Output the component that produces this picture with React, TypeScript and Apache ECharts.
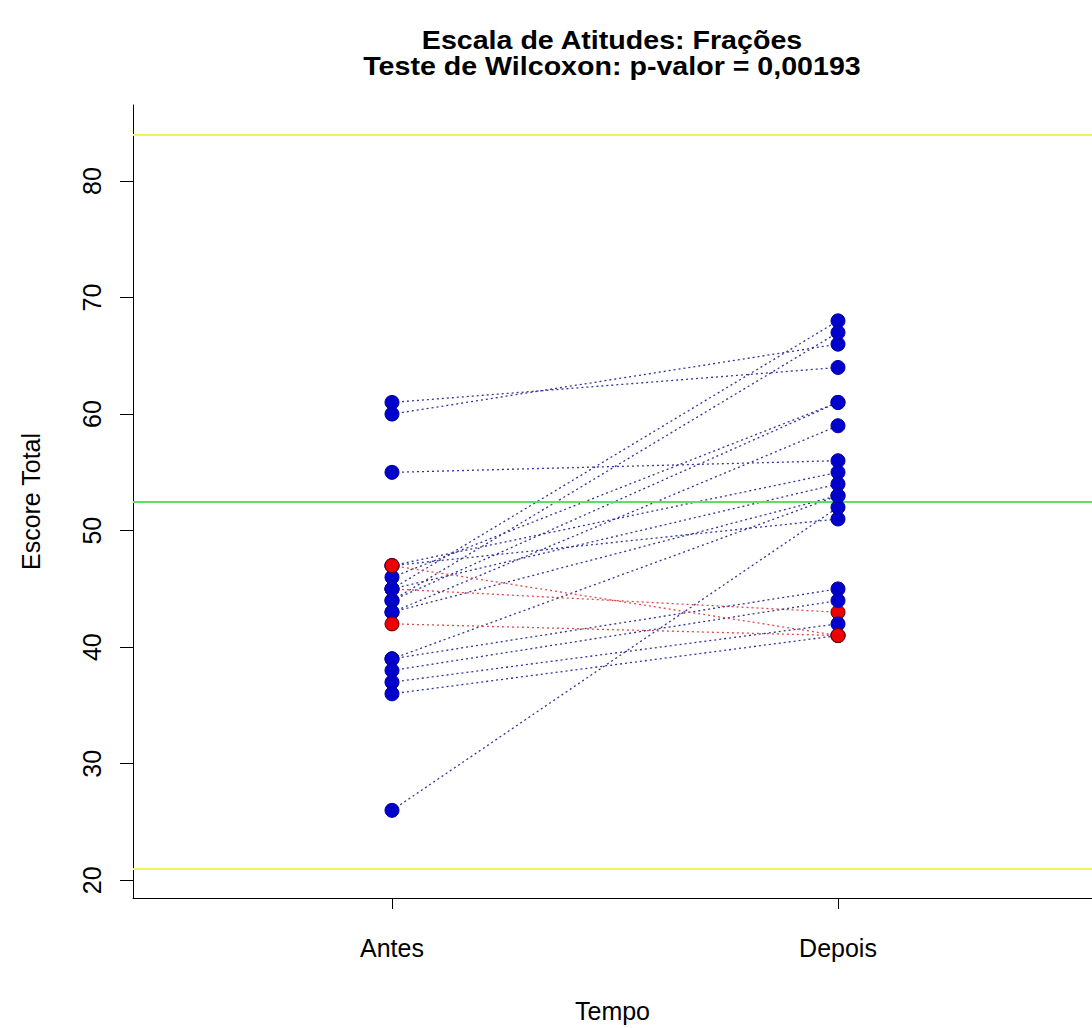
import React, { useEffect, useRef } from "react";
import * as echarts from "echarts";

const categories = ["Antes", "Depois"];
// paired scores per subject (Antes -> Depois)
const antes = [45, 61, 60, 55, 45, 44, 44, 46, 43, 47, 45, 43, 47, 26, 39, 39, 38, 37, 36, 47, 42];
const depois = [43, 64, 66, 56, 68, 67, 61, 61, 59, 55, 54, 53, 51, 52, 53, 45, 44, 42, 41, 41, 41];
const yTicks = [20, 30, 40, 50, 60, 70, 80];
const lowerLimit = 21;
const upperLimit = 84;
const midPoint = 52.5;
const titleLines = ["Escala de Atitudes: Frações", "Teste de Wilcoxon: p-valor = 0,00193"];

const BLUE = "#0000CD";
const RED = "#EE0000";
const FONT = "Liberation Sans, Arial, sans-serif";

export default function App() {
  const ref = useRef<HTMLDivElement>(null);
  useEffect(() => {
    if (!ref.current) return;
    const chart = echarts.init(ref.current, null, { renderer: "svg" });
    const up = antes.map((a, i) => depois[i] >= a);
    const lineSeries = antes.map((a, i) => ({
      type: "line",
      data: [
        [1, a],
        [2, depois[i]],
      ],
      symbol: "none",
      silent: true,
      lineStyle: {
        color: up[i] ? "#34349c" : "#e04848",
        width: 1.3,
        type: [2, 3],
      },
      z: 2,
    }));
    const pts = (x: number, vals: number[]) =>
      vals.map((v, i) => ({
        value: [x, v],
        itemStyle: {
          color: up[i] ? BLUE : RED,
          borderColor: up[i] ? "#0000a0" : "#600000",
          borderWidth: 1,
          opacity: 1,
        },
      }));
    chart.setOption({
      animation: false,
      backgroundColor: "#ffffff",
      graphic: titleLines.map((t, k) => ({
        type: "text",
        x: 612,
        y: 40 + k * 26,
        scaleX: 1.1,
        style: {
          text: t,
          font: `bold 26px ${FONT}`,
          fill: "#000",
          textAlign: "center",
          textVerticalAlign: "middle",
        },
      })),
      grid: { left: 133, right: 0, top: 105, bottom: 128 },
      xAxis: {
        type: "value",
        min: 0.4193,
        max: 2.5695,
        name: "Tempo",
        nameLocation: "middle",
        nameGap: 100,
        nameTextStyle: { fontFamily: FONT, fontSize: 25, color: "#000" },
        axisLine: { show: true, lineStyle: { color: "#000", width: 1 } },
        axisTick: { show: true, customValues: [1, 2], length: 11, lineStyle: { color: "#000" } },
        axisLabel: {
          customValues: [1, 2],
          formatter: (v: number) => categories[Math.round(v) - 1] ?? "",
          fontFamily: FONT,
          fontSize: 25,
          color: "#000",
          margin: 37,
        },
        splitLine: { show: false },
      },
      yAxis: {
        type: "value",
        min: 18.48,
        max: 86.52,
        name: "Escore Total",
        nameLocation: "middle",
        nameGap: 90,
        nameRotate: 90,
        nameTextStyle: { fontFamily: FONT, fontSize: 25, color: "#000" },
        axisLine: { show: true, lineStyle: { color: "#000", width: 1 } },
        axisTick: { show: true, customValues: yTicks, length: 13, lineStyle: { color: "#000" } },
        axisLabel: {
          customValues: yTicks,
          rotate: 90,
          fontFamily: FONT,
          fontSize: 25,
          color: "#000",
          margin: 29,
        },
        splitLine: { show: false },
      },
      series: [
        {
          type: "line",
          data: [],
          silent: true,
          markLine: {
            silent: true,
            symbol: "none",
            label: { show: false },
            data: [
              { yAxis: upperLimit, lineStyle: { color: "#f2f25a", width: 2, type: "solid" } },
              { yAxis: lowerLimit, lineStyle: { color: "#f2f25a", width: 2, type: "solid" } },
              { yAxis: midPoint, lineStyle: { color: "#5ee05e", width: 2, type: "solid" } },
            ],
          },
          z: 1,
        },
        ...lineSeries,
        {
          type: "scatter",
          symbolSize: 14,
          data: [...pts(1, antes), ...pts(2, depois)],
          z: 5,
        },
      ],
    });
    return () => chart.dispose();
  }, []);
  return (
    <div
      ref={ref}
      style={{ position: "fixed", left: 0, top: 0, width: 1092, height: 1028 }}
    />
  );
}
